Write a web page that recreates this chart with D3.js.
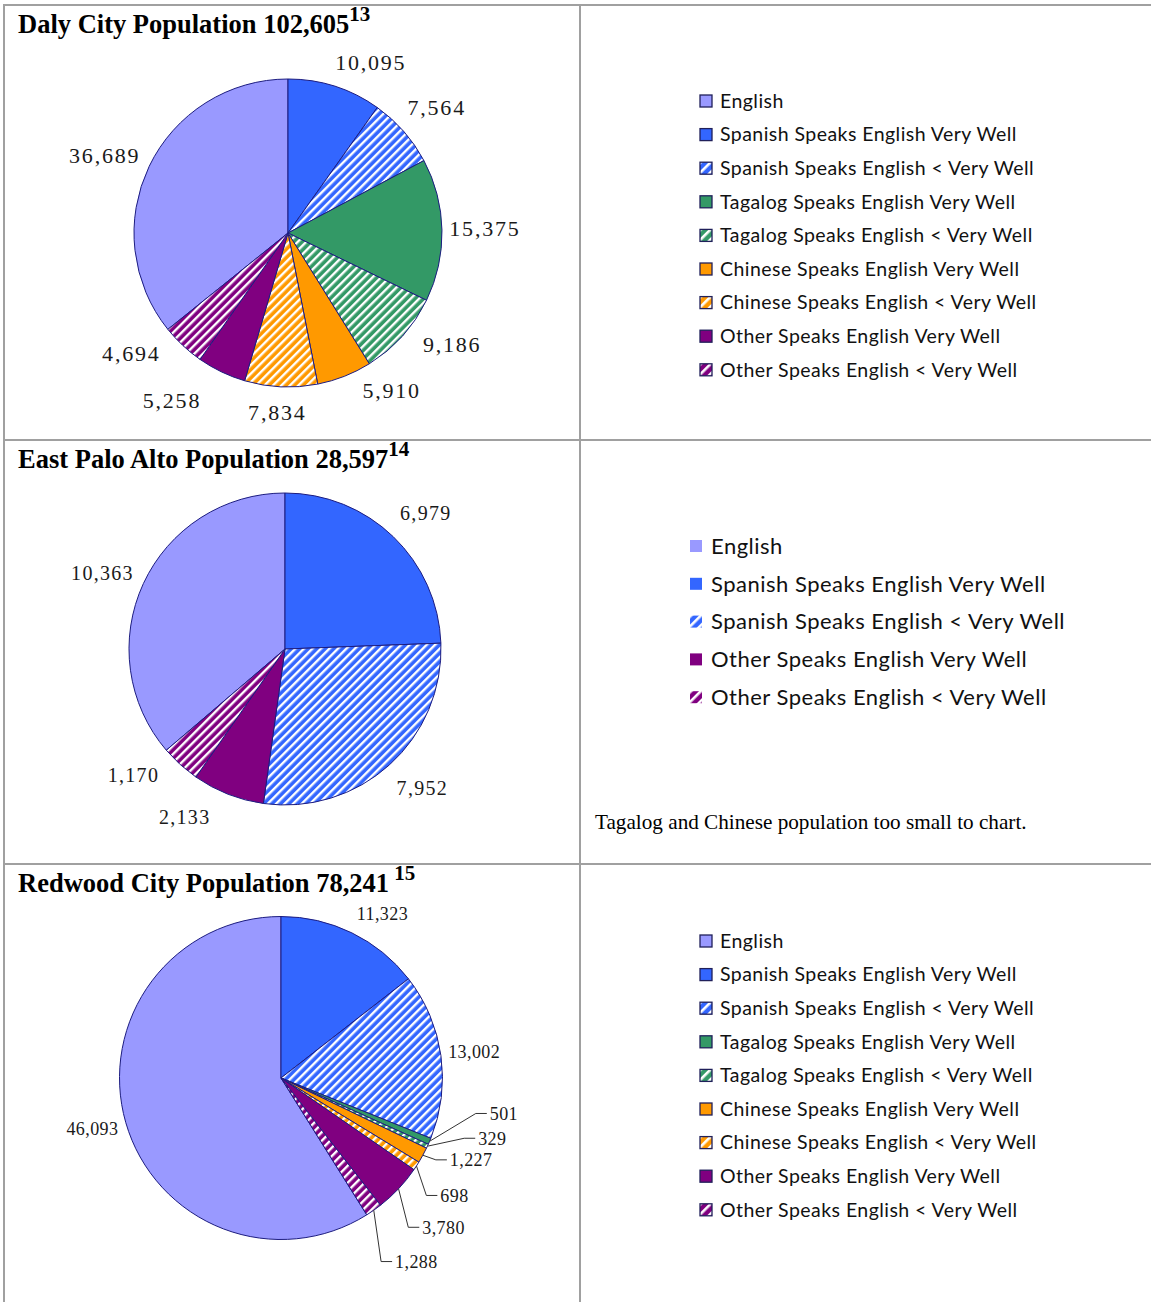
<!DOCTYPE html>
<html>
<head>
<meta charset="utf-8">
<script src="https://cdn.jsdelivr.net/npm/d3@7"></script>
<style>
  body { margin: 0; background: #fff; }
</style>
</head>
<body>
<script>
// Categories (legend order = data order)
var categories = [
  "English",
  "Spanish Speaks English Very Well",
  "Spanish Speaks English < Very Well",
  "Tagalog Speaks English Very Well",
  "Tagalog Speaks English < Very Well",
  "Chinese Speaks English Very Well",
  "Chinese Speaks English < Very Well",
  "Other Speaks English Very Well",
  "Other Speaks English < Very Well"
];
var epaCategories = [
  "English",
  "Spanish Speaks English Very Well",
  "Spanish Speaks English < Very Well",
  "Other Speaks English Very Well",
  "Other Speaks English < Very Well"
];

// Values
var dalyValues    = [36689, 10095, 7564, 15375, 9186, 5910, 7834, 5258, 4694];
var epaValues     = [10363, 6979, 7952, 2133, 1170];
var redwoodValues = [46093, 11323, 13002, 501, 329, 1227, 698, 3780, 1288];

// Label nudges (px, relative to the label-arc centroid), same order as values
var dalyNudge    = [[-12, 4], [25, 10], [6, 0], [7, -1], [23, -16], [34, -19], [-2, -11], [-34, -4], [-27, -19]];
var epaNudge     = [[-10, 4], [9, 1], [10, -2], [-31, -9], [-24, -15]];
var redwoodNudge = [[-6, -2], [18, 6], [5, 0], [34, -39], [25, -20], [2, -9], [0, 14], [3, 19], [5, 28]];
var redwoodLeader = [false, false, false, true, true, true, true, true, true];

var langColor = {
  English: "#9999ff",
  Spanish: "#3366ff",
  Tagalog: "#339966",
  Chinese: "#ff9900",
  Other:   "#800080"
};

var svg = d3.select("body").append("svg")
  .attr("width", 1151)
  .attr("height", 1302);

// Stripe patterns ("wide upward diagonal")
var defs = svg.append("defs");
Object.keys(langColor).forEach(function(lang) {
  var p = defs.append("pattern")
    .attr("id", "stripe-" + lang)
    .attr("patternUnits", "userSpaceOnUse")
    .attr("width", 6).attr("height", 6)
    .attr("patternTransform", "rotate(45)");
  p.append("rect").attr("width", 6).attr("height", 6).attr("fill", langColor[lang]);
  p.append("rect").attr("x", 0).attr("width", 2.4).attr("height", 6).attr("fill", "#fff");

  var q = defs.append("pattern")
    .attr("id", "lstripe-" + lang)
    .attr("patternUnits", "userSpaceOnUse")
    .attr("width", 7).attr("height", 7)
    .attr("patternTransform", "rotate(45)");
  q.append("rect").attr("width", 7).attr("height", 7).attr("fill", langColor[lang]);
  q.append("rect").attr("x", 0).attr("width", 2.6).attr("height", 7).attr("fill", "#fff");
});

function fillFor(cat, legend) {
  var lang = cat.split(" ")[0];
  if (cat.indexOf("<") >= 0) return "url(#" + (legend ? "lstripe-" : "stripe-") + lang + ")";
  return langColor[lang];
}

// Table grid
var gridColor = "#a0a0a0";
var grid = svg.append("g").attr("stroke", gridColor).attr("stroke-width", 2);
grid.append("line").attr("x1", 4).attr("y1", 5).attr("x2", 4).attr("y2", 1302);
grid.append("line").attr("x1", 580).attr("y1", 5).attr("x2", 580).attr("y2", 1302);
[5, 440, 864].forEach(function(y) {
  grid.append("line").attr("x1", 3).attr("y1", y).attr("x2", 1151).attr("y2", y);
});

var charts = [
  { title: "Daly City Population 102,605", sup: "13", top: 5,
    cats: categories, values: dalyValues, nudge: dalyNudge,
    cx: 288, cy: 233, r: 154, labelR: 190, font: 22, spacing: 1.8,
    legend: { x: 700, y: 101, step: 33.6, size: 12, font: 19.5, ls: 0.45, textX: 720, border: true } },
  { title: "East Palo Alto Population 28,597", sup: "14", top: 440,
    cats: epaCategories, values: epaValues, nudge: epaNudge,
    cx: 285, cy: 649, r: 156, labelR: 190, font: 20, spacing: 1.3,
    legend: { x: 690, y: 546, step: 37.8, size: 12, font: 22, ls: 0.5, textX: 711, border: false } },
  { title: "Redwood City Population 78,241", sup: " 15", top: 864,
    cats: categories, values: redwoodValues, nudge: redwoodNudge, leader: redwoodLeader,
    cx: 281, cy: 1078, r: 161.5, labelR: 190, font: 18, spacing: 0.4,
    legend: { x: 700, y: 941, step: 33.6, size: 12, font: 19.5, ls: 0.45, textX: 720, border: true } }
];

var fmt = d3.format(",");

charts.forEach(function(c) {
  var data = c.cats.map(function(cat, i) { return { cat: cat, value: c.values[i] }; });
  var total = d3.sum(c.values);
  // English is drawn last going clockwise, ending at 12 o'clock
  var start = -c.values[0] / total * 2 * Math.PI;
  var pie = d3.pie().sort(null).value(function(d) { return d.value; })
    .startAngle(start).endAngle(start + 2 * Math.PI);
  var arcs = pie(data);
  var arc = d3.arc().innerRadius(0).outerRadius(c.r);
  var labelArc = d3.arc().innerRadius(c.labelR).outerRadius(c.labelR);
  var edgeArc = d3.arc().innerRadius(c.r).outerRadius(c.r);

  // Title
  var t = svg.append("text")
    .attr("x", 18).attr("y", c.top + 28)
    .attr("font-family", "'Liberation Serif', 'Times New Roman', serif")
    .attr("font-weight", "bold")
    .attr("font-size", 26.5)
    .attr("fill", "#000")
    .text(c.title);
  t.append("tspan")
    .attr("dy", -12)
    .attr("font-size", 21)
    .text(c.sup);

  var g = svg.append("g").attr("transform", "translate(" + c.cx + "," + c.cy + ")");

  g.selectAll("path.slice")
      .data(arcs).enter()
    .append("path")
      .attr("class", "slice")
      .attr("d", arc)
      .attr("fill", function(d) { return fillFor(d.data.cat, false); })
      .attr("stroke", "#1c1c80")
      .attr("stroke-width", 1)
      .attr("stroke-linejoin", "round");

  // Labels
  arcs.forEach(function(d, i) {
    var p = labelArc.centroid(d);
    var x = p[0] + c.nudge[i][0];
    var y = p[1] + c.nudge[i][1];
    var lead = c.leader && c.leader[i];
    if (lead) {
      var e = edgeArc.centroid(d);
      g.append("path")
        .attr("d", "M" + e[0] + "," + e[1] + "L" + (x - 14) + "," + y + "L" + (x - 3) + "," + y)
        .attr("fill", "none")
        .attr("stroke", "#333")
        .attr("stroke-width", 1);
    }
    g.append("text")
      .attr("x", x).attr("y", y)
      .attr("dy", "0.35em")
      .attr("text-anchor", lead ? "start" : "middle")
      .attr("font-family", "'Liberation Serif', 'Times New Roman', serif")
      .attr("font-size", c.font)
      .attr("letter-spacing", c.spacing)
      .attr("fill", "#1a1a1a")
      .text(fmt(d.data.value));
  });

  // Legend
  var L = c.legend;
  var lg = svg.append("g");
  var items = lg.selectAll("g.item")
      .data(c.cats).enter()
    .append("g")
      .attr("class", "item")
      .attr("transform", function(d, i) { return "translate(0," + (L.y + i * L.step) + ")"; });
  items.append("rect")
    .attr("x", L.x).attr("y", -L.size / 2)
    .attr("width", L.size).attr("height", L.size)
    .attr("fill", function(d) { return fillFor(d, true); })
    .attr("stroke", L.border ? "#20205a" : "none")
    .attr("stroke-width", 1.3);
  items.append("text")
    .attr("x", L.textX).attr("y", 0)
    .attr("dy", "0.35em")
    .attr("font-family", "Lato, 'Open Sans', sans-serif")
    .attr("font-size", L.font)
    .attr("letter-spacing", L.ls)
    .attr("fill", "#111")
    .text(function(d) { return d; });
});

// Note for East Palo Alto
svg.append("text")
  .attr("x", 595).attr("y", 829)
  .attr("font-family", "'Liberation Serif', 'Times New Roman', serif")
  .attr("font-size", 21.2)
  .attr("fill", "#000")
  .text("Tagalog and Chinese population too small to chart.");
</script>
</body>
</html>
